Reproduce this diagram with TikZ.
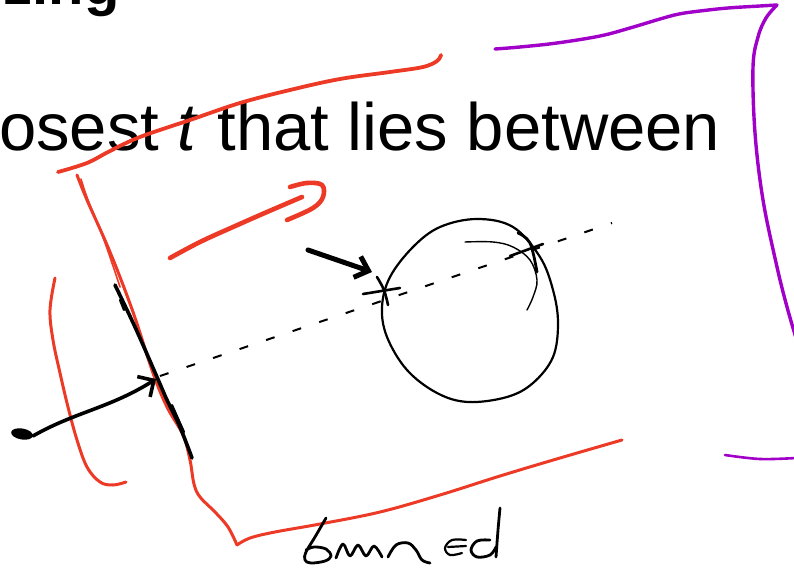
\documentclass[tikz,border=0pt]{standalone}
\usepackage{fontspec}
\setmainfont{Liberation Sans}
\usetikzlibrary{arrows.meta,shapes.geometric}
\definecolor{inkred}{RGB}{236,58,38}
\definecolor{inkpurple}{RGB}{160,0,200}
\begin{document}
\begin{tikzpicture}[x=1pt,y=-1pt,
  redink/.style={draw=inkred,line width=3pt,line cap=round,line join=round},
  redthin/.style={redink,line width=1.6pt},
  redthick/.style={redink,line width=4.6pt},
  purpleink/.style={draw=inkpurple,line width=3.4pt,line cap=round,line join=round},
  blackink/.style={draw=black,line width=2.2pt,line cap=round,line join=round},
  blackthin/.style={blackink,line width=1.4pt},
  blackbold/.style={blackink,line width=3.6pt},
  raydash/.style={draw=black,line width=2pt,dash pattern=on 9pt off 19pt},
  hand/.style={draw=black,line width=2.8pt,line cap=round,line join=round},
  word/.style={font=\fontsize{67}{80}\selectfont,inner sep=0pt,anchor=base west},
  head/.style={font=\bfseries\fontsize{58}{68}\selectfont,inner sep=0pt,anchor=base east},
  eyedot/.style={ellipse,fill=black,minimum width=22pt,minimum height=11pt,inner sep=0pt,rotate=-10}]
\useasboundingbox (0,0) rectangle (794,580);
\begin{scope}
\clip (0,0) rectangle (794,580);
% texts
\node[head] (title) at (120,5) {zing};
\node[word] (line) at (-1,151) {osest \textit{t} that lies between};

% red box
\draw[redink,line width=3.8pt] plot[smooth,tension=.6] coordinates {(58,172) (87,163) (110,151) (140,137) (190,120) (240,103) (290,90) (340,79) (390,72) (423,67) (437,61) (441,55)};
\draw[redink] plot[smooth,tension=.6] coordinates {(77,175) (87,200) (110,252) (133,312) (153,373) (167,407) (183,435) (190,460) (194,484) (200,497) (215,512) (228,527) (237,545)};
\draw[redthin] plot[smooth,tension=.6] coordinates {(81,179) (88,200) (104,240) (120,287)};
\draw[redink] plot[smooth,tension=.6] coordinates {(237,545) (250,538) (275,532) (320,524) (380,512) (440,495) (500,476) (560,458) (622,440)};
% red bracket
\draw[redink] plot[smooth,tension=.6] coordinates {(55,278) (50,310) (53,340) (60,373) (68,407) (77,440) (87,467) (100,482) (113,485) (126,482)};
% red stroke
\draw[redthick] plot[smooth,tension=.6] coordinates {(170,258) (200,242) (233,227) (267,212) (302,197)};
\draw[redthick] plot[smooth,tension=.6] coordinates {(290,187) (307,183) (322,185) (323,197) (313,208) (287,220)};

% purple
\draw[purpleink] plot[smooth,tension=.6] coordinates {(495,49) (520,47) (557,43) (600,36) (630,28) (660,19) (679,14) (700,11) (728,8) (760,6) (777,5)};
\draw[purpleink] plot[smooth,tension=.6] coordinates {(777,5) (766,18) (758,37) (753,67) (755,133) (763,200) (777,267) (787,307) (796,338)};
\draw[purpleink,line width=2.6pt] plot[smooth,tension=.6] coordinates {(725,455) (760,459) (796,458)};

% plane line
\draw[blackbold] plot[smooth,tension=.6] coordinates {(115,285) (135,327) (157,377) (167,400) (180,427) (192,458)};
\draw[blackink] (120,300) -- (124,310);
\draw[blackink] (172,405) -- (184,432);

% ray
\coordinate (rayA) at (160,376);
\coordinate (rayB) at (612,223);
\draw[raydash] (rayA) -- (rayB);

% sphere
\draw[blackink] plot[smooth cycle,tension=.6] coordinates {(382,307) (387,337) (407,370) (437,393) (468,402) (507,397) (533,383) (553,357) (558,323) (553,290) (540,257) (513,227) (477,219) (440,227) (413,247) (390,277)};
\draw[blackthin] plot[smooth,tension=.6] coordinates {(465,242) (493,242) (513,247) (530,260) (537,280) (533,297) (527,310)};

% intersection marks
\draw[blackink,line width=2.6pt] plot[smooth,tension=.6] coordinates {(377,277) (384,290) (388,305)};
\draw[blackink,line width=2.6pt] (363,294) -- (400,288);
\draw[blackink,line width=2.8pt] plot[smooth,tension=.6] coordinates {(518,233) (530,243) (537,272)};
\draw[blackink,line width=2.6pt] (510,256) -- (543,244);

% eye arrow
\node[eyedot] (eye) at (22,434) {};
\coordinate (eyehit) at (156,379);
\draw[blackink,line width=3.6pt,-{Straight Barb[length=12pt,width=24pt,line width=3.6pt]}] (eye.east) .. controls (75,412) and (110,408) .. (eyehit);

% pointer arrow
\coordinate (ptrstart) at (308,250);
\coordinate (ptrend) at (372,272);
\draw[blackink,line width=5pt,-{Straight Barb[length=12pt,width=22pt,line width=5pt]}] (ptrstart) -- (ptrend);

% handwriting
\draw[hand] plot[smooth,tension=.6] coordinates {(326,518) (315,537) (306,552) (305,560) (311,563) (325,561) (331,556) (326,549) (314,547) (306,550)};
\draw[hand] plot[smooth,tension=.6] coordinates {(336,558) (343,544) (350,556) (358,545) (366,556) (374,546) (382,557)};
\draw[hand] plot[smooth,tension=.6] coordinates {(388,557) (396,545) (408,543) (416,550) (422,560) (430,563)};
\draw[hand,line width=2.2pt] plot[smooth,tension=.6] coordinates {(466,540) (452,540) (445,548) (450,555) (462,553)};
\draw[hand,line width=2.2pt] (448,547) -- (466,546);
\draw[hand] plot[smooth,tension=.6] coordinates {(490,540) (477,541) (471,550) (477,557) (490,555) (496,547)};
\draw[hand] plot[smooth,tension=.6] coordinates {(500,508) (498,530) (496,557)};
\end{scope}
\end{tikzpicture}
\end{document}
